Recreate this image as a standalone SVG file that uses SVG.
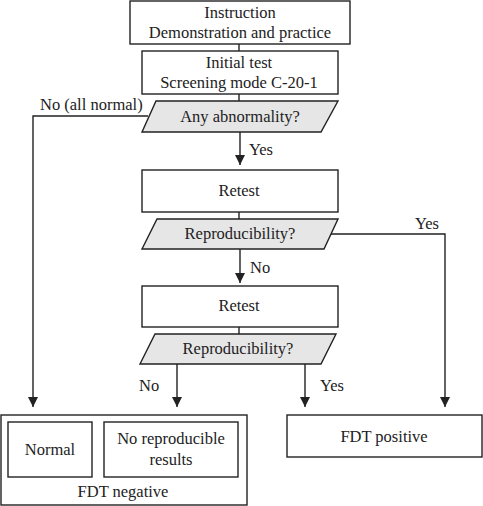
<svg xmlns="http://www.w3.org/2000/svg" width="483" height="506" viewBox="0 0 483 506">
<defs>
<style>
.box{fill:#fff;stroke:#222;stroke-width:1.4}
.dec{fill:#e6e6e6;stroke:#222;stroke-width:1.4}
.ln{fill:none;stroke:#222;stroke-width:1.4}
text{font-family:"Liberation Serif","Times New Roman",serif;font-size:16.5px;fill:#222}
.c{text-anchor:middle}
</style>
<marker id="ah" viewBox="0 0 10 10" refX="10" refY="5" markerWidth="10" markerHeight="10" markerUnits="userSpaceOnUse" orient="auto">
<path d="M0,0 L10,5 L0,10 z" fill="#222"/>
</marker>
</defs>
<rect width="483" height="506" fill="#fff"/>
<g id="connectors">
<line class="ln" x1="239" y1="44" x2="239" y2="51"/>
<line class="ln" x1="239" y1="94" x2="239" y2="101"/>
<line class="ln" x1="240" y1="132" x2="240" y2="165" marker-end="url(#ah)"/>
<polyline class="ln" points="148,116 33,116 33,407" marker-end="url(#ah)"/>
<line class="ln" x1="239" y1="212" x2="239" y2="219"/>
<line class="ln" x1="240" y1="249" x2="240" y2="283" marker-end="url(#ah)"/>
<polyline class="ln" points="331,234 445,234 445,407" marker-end="url(#ah)"/>
<line class="ln" x1="239" y1="327" x2="239" y2="334"/>
<line class="ln" x1="177" y1="364" x2="177" y2="407" marker-end="url(#ah)"/>
<line class="ln" x1="305" y1="364" x2="305" y2="407" marker-end="url(#ah)"/>
<text x="40" y="110">No (all normal)</text>
<text x="249" y="155">Yes</text>
<text x="415" y="229">Yes</text>
<text x="250" y="273">No</text>
<text x="139" y="391">No</text>
<text x="320" y="391">Yes</text>
</g>
<g id="instruction">
<rect class="box" x="130" y="1" width="220" height="43"/>
<text class="c" x="240" y="18">Instruction</text>
<text class="c" x="240" y="38">Demonstration and practice</text>
</g>
<g id="initial">
<rect class="box" x="142" y="51" width="196" height="43"/>
<text class="c" x="239" y="68">Initial test</text>
<text class="c" x="239" y="88">Screening mode C-20-1</text>
</g>
<g id="abnormality">
<polygon class="dec" points="156,101 338,101 321,132 142,132"/>
<text class="c" x="240" y="122">Any abnormality?</text>
</g>
<g id="retest1">
<rect class="box" x="142" y="170" width="196" height="42"/>
<text class="c" x="239" y="196">Retest</text>
</g>
<g id="repro1">
<polygon class="dec" points="157,219 338,219 324,249 142,249"/>
<text class="c" x="240" y="239">Reproducibility?</text>
</g>
<g id="retest2">
<rect class="box" x="142" y="286" width="196" height="41"/>
<text class="c" x="239" y="311">Retest</text>
</g>
<g id="repro2">
<polygon class="dec" points="155,334 336,334 321,364 140,364"/>
<text class="c" x="238" y="354">Reproducibility?</text>
</g>
<g id="fdt-negative">
<rect class="box" x="1" y="415" width="246" height="90"/>
<text class="c" x="123" y="497">FDT negative</text>
</g>
<g id="normal">
<rect class="box" x="8" y="422" width="84" height="55"/>
<text class="c" x="50" y="455">Normal</text>
</g>
<g id="no-repro">
<rect class="box" x="104" y="422" width="134" height="55"/>
<text class="c" x="171" y="444">No reproducible</text>
<text class="c" x="171" y="465">results</text>
</g>
<g id="fdt-positive">
<rect class="box" x="287" y="415" width="195" height="42"/>
<text class="c" x="384" y="442">FDT positive</text>
</g>
</svg>
